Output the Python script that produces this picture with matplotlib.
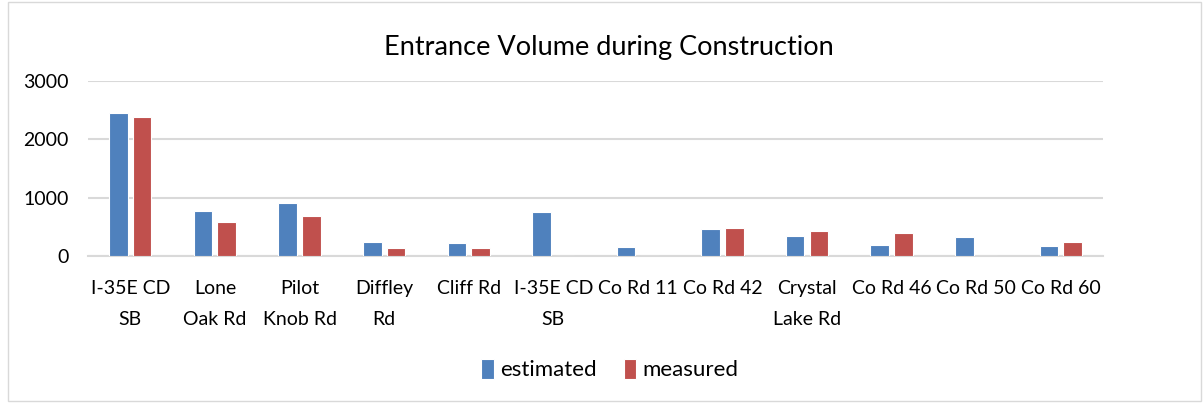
import matplotlib
matplotlib.use("Agg")
import matplotlib.pyplot as plt
from matplotlib.patches import Rectangle
import numpy as np

categories = ["I-35E CD\nSB", "Lone\nOak Rd", "Pilot\nKnob Rd", "Diffley\nRd", "Cliff Rd",
              "I-35E CD\nSB", "Co Rd 11", "Co Rd 42", "Crystal\nLake Rd", "Co Rd 46",
              "Co Rd 50", "Co Rd 60"]
estimated = [2450, 770, 900, 245, 228, 750, 155, 458, 343, 189, 326, 171]
measured = [2380, 585, 690, 137, 132, 0, 0, 475, 429, 394, 0, 240]
yticks = [0, 1000, 2000, 3000]

plt.rcParams["font.family"] = ["Lato", "DejaVu Sans"]

fig = plt.figure(figsize=(12.03, 4.03), dpi=100)
ax = fig.add_axes([0.0732, 0.365, 0.8437, 0.434])

x = np.arange(len(categories))
w = 0.22
off = 0.14
ax.bar(x - off, estimated, width=w, color="#4F81BD", edgecolor="white", linewidth=0.8,
       label="estimated", zorder=3)
ax.bar(x + off, measured, width=w, color="#C0504D", edgecolor="white", linewidth=0.8,
       label="measured", zorder=3)

ax.set_xlim(-0.5, len(categories) - 0.5)
ax.set_ylim(0, 3000)
ax.set_yticks(yticks)
ax.set_yticklabels([str(v) for v in yticks], fontsize=14)
ax.set_xticks(x)
ax.set_xticklabels(categories, fontsize=14, linespacing=2.0)
ax.tick_params(axis="both", length=0, colors="#000000")
ax.tick_params(axis="x", pad=17)
ax.tick_params(axis="y", pad=14)
ax.grid(axis="y", color="#D9D9D9", linewidth=1.5, zorder=0)
for s in ["top", "right", "left"]:
    ax.spines[s].set_visible(False)
ax.spines["bottom"].set_color("#D9D9D9")
ax.spines["bottom"].set_linewidth(1.5)

fig.text(0.5065, 0.883, "Entrance Volume during Construction", ha="center", va="center",
         fontsize=19.5)

fig.legend(loc="center", bbox_to_anchor=(0.507, 0.083), ncol=2, frameon=False,
           fontsize=16, handlelength=0.55, handleheight=1.0, handletextpad=0.3,
           columnspacing=1.2)

fig.patches.append(Rectangle((8 / 1203, 0.004), 1 - 10 / 1203, 0.99, transform=fig.transFigure,
                             fill=False, edgecolor="#D9D9D9", linewidth=1.0))

fig.savefig("out.png", dpi=100, facecolor="white")
